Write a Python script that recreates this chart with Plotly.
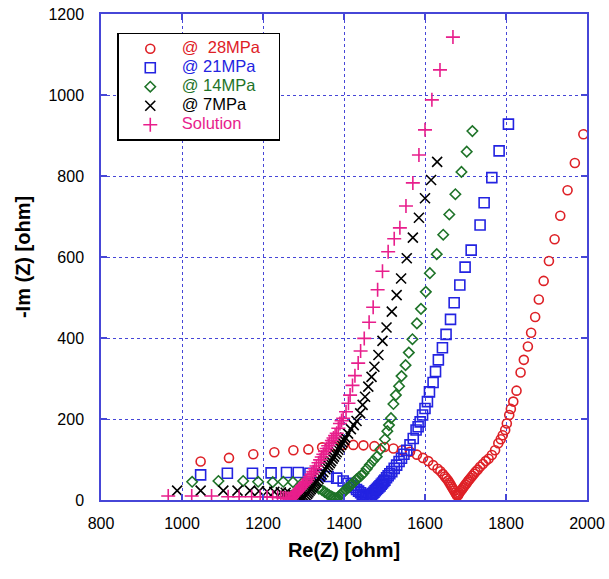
import plotly.graph_objects as go

# ---------------- data ----------------
names = ["@\u00a0\u00a028MPa\u00a0\u00a0\u00a0", "@ 21MPa", "@ 14MPa", "@ 7MPa", "Solution"]

# (Re Z, -Im Z) pairs in ohm
pts_28MPa = [(1046, 95), (1116, 104), (1176, 113), (1228, 118), (1275, 123), (1312, 125), (1346, 130),
             (1374, 133), (1398, 136), (1423, 136), (1448, 135), (1475, 133), (1500, 131), (1522, 127),
             (1543, 123), (1563, 119), (1580, 112), (1595, 104), (1608, 96), (1620, 86), (1631, 77),
             (1638, 71), (1644, 64), (1649, 58), (1653, 53), (1657, 48), (1660, 43), (1663, 38),
             (1666, 33), (1669, 28), (1672, 23), (1675, 18), (1677, 14), (1679, 11), (1681, 11),
             (1683, 14), (1685, 18), (1688, 22), (1691, 26), (1694, 30), (1697, 34), (1700, 38),
             (1703, 42), (1706, 46), (1709, 50), (1713, 55), (1717, 60), (1721, 65), (1725, 70),
             (1730, 75), (1736, 82), (1743, 89), (1750, 96), (1757, 102), (1765, 111), (1773, 123),
             (1781, 140), (1787, 150), (1792, 160), (1798, 173), (1802, 189), (1808, 210), (1812, 225),
             (1818, 243), (1826, 270), (1836, 315), (1844, 346), (1854, 379), (1862, 413), (1872, 452),
             (1881, 495), (1893, 541), (1906, 590), (1920, 644), (1934, 702), (1952, 765), (1970, 832),
             (1991, 903)]

pts_21MPa = [(1046, 62), (1112, 66), (1174, 66), (1220, 67), (1258, 68), (1287, 68), (1316, 66),
             (1341, 62), (1361, 58), (1382, 54), (1398, 47), (1410, 41), (1418, 36), (1425, 31),
             (1431, 26), (1436, 22), (1441, 18), (1445, 14), (1449, 11), (1453, 8), (1456, 6),
             (1459, 4), (1462, 6), (1465, 9), (1468, 12), (1471, 16), (1474, 19), (1477, 23),
             (1480, 26), (1483, 29), (1486, 32), (1489, 35), (1492, 39), (1495, 42), (1498, 46),
             (1501, 49), (1505, 55), (1509, 60), (1513, 65), (1518, 70), (1524, 78), (1530, 86),
             (1536, 95), (1542, 103), (1548, 113), (1555, 123), (1563, 136), (1571, 152), (1578, 173),
             (1583, 181), (1588, 193), (1594, 210), (1600, 226), (1606, 243), (1611, 267), (1620, 290),
             (1626, 317), (1633, 346), (1643, 376), (1652, 409), (1663, 446), (1672, 487), (1686, 531),
             (1699, 575), (1714, 617), (1736, 679), (1746, 734), (1765, 796), (1783, 862), (1806, 928)]

pts_14MPa = [(1025, 45), (1090, 47), (1151, 47), (1188, 45), (1224, 44), (1250, 45), (1274, 44),
             (1296, 41), (1314, 37), (1328, 32), (1338, 28), (1346, 24), (1352, 20), (1358, 16),
             (1363, 12), (1368, 9), (1372, 7), (1376, 5), (1380, 4), (1384, 6), (1388, 9), (1392, 13),
             (1396, 17), (1400, 21), (1404, 25), (1408, 29), (1412, 32), (1416, 36), (1420, 40),
             (1425, 45), (1431, 51), (1437, 56), (1443, 61), (1448, 66), (1456, 77), (1464, 87),
             (1472, 97), (1481, 107), (1490, 125), (1501, 150), (1507, 170), (1511, 185), (1516, 202),
             (1522, 237), (1528, 259), (1536, 281), (1542, 306), (1552, 333), (1560, 364), (1569, 397),
             (1580, 436), (1590, 472), (1602, 514), (1612, 560), (1629, 607), (1645, 655), (1660, 705),
             (1675, 755), (1690, 810), (1703, 860), (1717, 911)]

pts_7MPa = [(988, 23), (1046, 23), (1102, 23), (1137, 23), (1168, 23), (1190, 22), (1210, 21),
            (1228, 20), (1244, 19), (1256, 18), (1266, 16), (1274, 14), (1281, 12), (1287, 10),
            (1292, 8), (1296, 6), (1300, 4), (1303, 7), (1306, 11), (1309, 15), (1312, 19), (1315, 23),
            (1318, 27), (1321, 31), (1324, 35), (1327, 39), (1330, 43), (1333, 47), (1337, 52),
            (1341, 58), (1345, 63), (1349, 69), (1354, 76), (1358, 81), (1361, 86), (1365, 91),
            (1368, 96), (1372, 102), (1375, 107), (1379, 113), (1382, 118), (1386, 124), (1389, 130),
            (1393, 136), (1396, 142), (1400, 148), (1403, 154), (1410, 164), (1417, 175), (1424, 185),
            (1431, 195), (1440, 214), (1446, 235), (1452, 255), (1460, 280), (1468, 304), (1475, 329),
            (1485, 358), (1495, 393), (1505, 426), (1518, 465), (1530, 506), (1541, 547), (1555, 597),
            (1570, 648), (1585, 697), (1600, 745), (1615, 790), (1630, 835)]

pts_solution = [(966, 10), (1024, 10), (1073, 10), (1114, 8), (1141, 8), (1172, 8), (1193, 8),
                (1210, 7), (1224, 7), (1236, 6), (1244, 6), (1250, 5), (1255, 5), (1259, 4), (1263, 4),
                (1266, 3), (1269, 3), (1272, 6), (1275, 10), (1278, 14), (1281, 17), (1284, 20),
                (1287, 23), (1290, 27), (1294, 31), (1297, 35), (1300, 38), (1304, 42), (1307, 45),
                (1311, 51), (1316, 58), (1320, 64), (1324, 70), (1328, 77), (1332, 84), (1337, 92),
                (1341, 99), (1345, 106), (1349, 113), (1353, 120), (1357, 127), (1361, 134), (1365, 140),
                (1370, 147), (1374, 153), (1378, 159), (1382, 165), (1386, 177), (1390, 189), (1394, 196),
                (1398, 202), (1405, 218), (1411, 239), (1415, 259), (1421, 283), (1427, 307), (1435, 338),
                (1441, 368), (1450, 399), (1462, 439), (1472, 476), (1483, 519), (1495, 565), (1509, 613),
                (1524, 645), (1538, 672), (1553, 726), (1570, 783), (1585, 852), (1600, 914), (1617, 988),
                (1637, 1062), (1669, 1143)]

x_ticks = [800, 1000, 1200, 1400, 1600, 1800, 2000]
y_ticks = [0, 200, 400, 600, 800, 1000, 1200]

# ---------------- styles ----------------
colors = ["rgb(222,32,38)", "rgb(35,35,225)", "rgb(30,115,40)", "rgb(0,0,0)", "rgb(232,30,140)"]
symbols = ["circle-open", "square-open", "diamond-open", "x-thin-open", "cross-thin-open"]
sizes = [9, 10, 8, 10, 10]
series = [pts_28MPa, pts_21MPa, pts_14MPa, pts_7MPa, pts_solution]

AXIS = "rgb(70,70,215)"
FONT = "Liberation Sans, Arial, sans-serif"

fig = go.Figure()
for pts, nm, c, s, sz in zip(series, names, colors, symbols, sizes):
    fig.add_trace(go.Scatter(
        x=[p[0] for p in pts], y=[p[1] for p in pts], mode="markers",
        name=f"<span style='color:{c};font-size:16.5px'>{nm}</span>",
        marker=dict(symbol=s, size=sz, color=c, line=dict(color=c, width=1.6)),
    ))

axis_common = dict(
    showline=True, linecolor=AXIS, linewidth=1.5, mirror="ticks",
    ticks="inside", ticklen=6, tickcolor=AXIS, tickwidth=1.5,
    showgrid=True, gridcolor=AXIS, griddash="dot", gridwidth=1.3,
    zeroline=False, automargin=False,
    tickfont=dict(family=FONT, size=16, color="black"),
)

fig.update_xaxes(range=[800, 2000], tickvals=x_ticks, ticklabelstandoff=8,
                 title=dict(text="<b>Re(Z) [ohm]</b>", font=dict(family=FONT, size=20, color="black"), standoff=12),
                 **axis_common)
fig.update_yaxes(range=[0, 1200], tickvals=y_ticks, ticklabelstandoff=12,
                 title=dict(text="<b>-Im (Z) [ohm]</b>", font=dict(family=FONT, size=20, color="black"), standoff=12),
                 **axis_common)

fig.update_layout(
    width=609, height=579,
    margin=dict(l=101, r=22, t=14, b=79),
    paper_bgcolor="white", plot_bgcolor="white",
    showlegend=True,
    legend=dict(x=0.0335, y=0.9615, xanchor="left", yanchor="top",
                bgcolor="white", bordercolor="black", borderwidth=1.5,
                font=dict(family=FONT, size=12, color="black"),
                itemwidth=53, tracegroupgap=0),
    font=dict(family=FONT),
)

fig.write_html("out.html")
